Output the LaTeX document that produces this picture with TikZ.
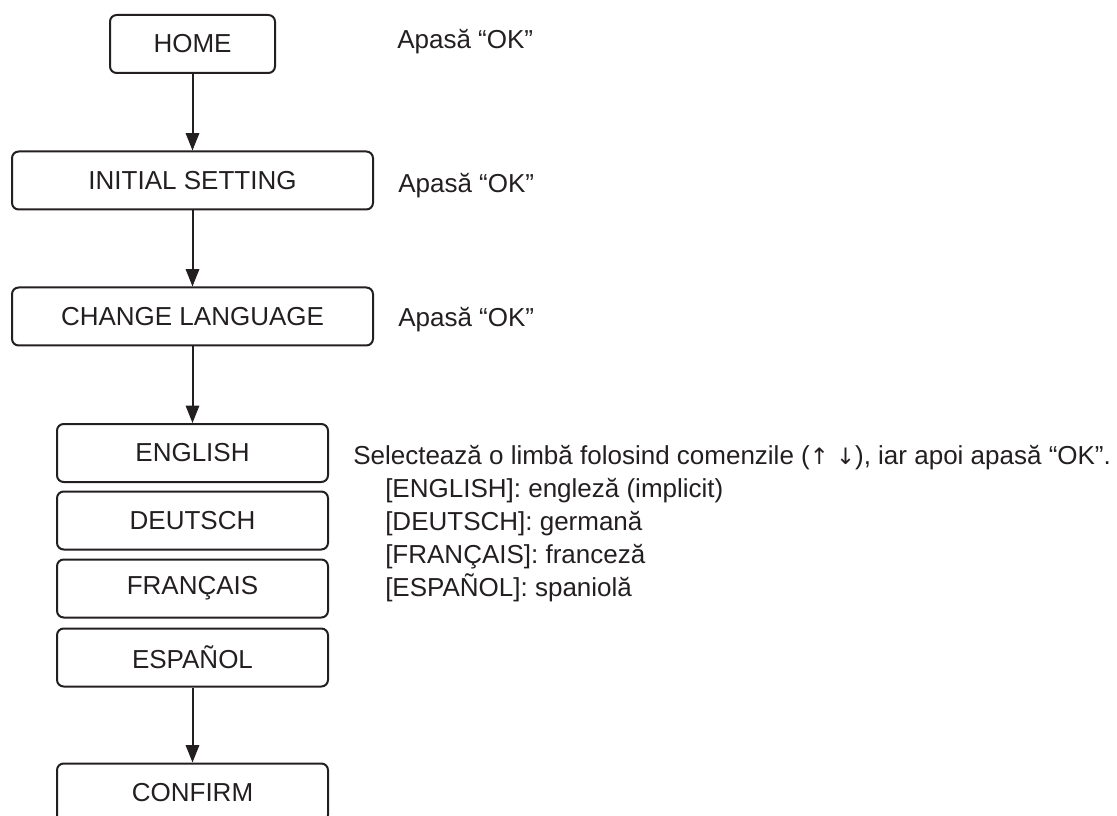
\documentclass[tikz,border=0pt]{standalone}
\usepackage{fontspec}
\setmainfont{Liberation Sans}
\newfontfamily\arrowfont{DejaVu Sans}
\usetikzlibrary{arrows.meta}
\definecolor{ink}{HTML}{231F20}
\begin{document}
\begin{tikzpicture}[x=0.75pt,y=-0.75pt,
  box/.style={draw=ink, rounded corners=5pt, line width=1.5pt, inner sep=0pt, minimum height=43.5pt, text=ink, font=\fontsize{19.5}{23}\selectfont},
  note/.style={anchor=base west, inner sep=0pt, text=ink, font=\fontsize{19.5}{23}\selectfont},
  flow/.style={draw=ink, line width=1.5pt, -{Triangle[length=13pt,width=10pt]}}]
\useasboundingbox (0,0) rectangle (1117,816);
\clip (0,0) rectangle (1117,816);
\node[box, minimum width=123.75pt] (home) at (192.5,44) {HOME};
\node[box, minimum width=270.75pt] (init) at (192.5,180.5) {INITIAL SETTING};
\node[box, minimum width=270.75pt] (chg) at (192.5,316.5) {CHANGE LANGUAGE};
\node[box, minimum width=203.25pt] (en) at (192.5,453) {ENGLISH};
\node[box, minimum width=203.25pt] (de) at (192.5,520.5) {DEUTSCH};
\node[box, minimum width=203.25pt] (fr) at (192.5,588.5) {FRANÇAIS};
\node[box, minimum width=203.25pt] (es) at (192.5,657.5) {ESPAÑOL};
\node[box, minimum width=203.25pt] (conf) at (192.5,792.5) {CONFIRM};
\draw[flow] (home) -- (init);
\draw[flow] (init) -- (chg);
\draw[flow] (chg) -- (en);
\draw[flow] (es) -- (conf);
\node[note] (n1) at (397,49) {Apasă “OK”};
\node[note] (n2) at (398,192.5) {Apasă “OK”};
\node[note] (n3) at (398,326.5) {Apasă “OK”};
\node[note] (sel) at (353,464) {Selectează o limbă folosind comenzile ({\arrowfont\fontsize{17}{20}\selectfont ↑ ↓}), iar apoi apasă “OK”.};
\node[note] (l1) at (385,497) {[ENGLISH]: engleză (implicit)};
\node[note] (l2) at (385,530) {[DEUTSCH]: germană};
\node[note] (l3) at (385,563) {[FRANÇAIS]: franceză};
\node[note] (l4) at (385,596) {[ESPAÑOL]: spaniolă};
\end{tikzpicture}
\end{document}
